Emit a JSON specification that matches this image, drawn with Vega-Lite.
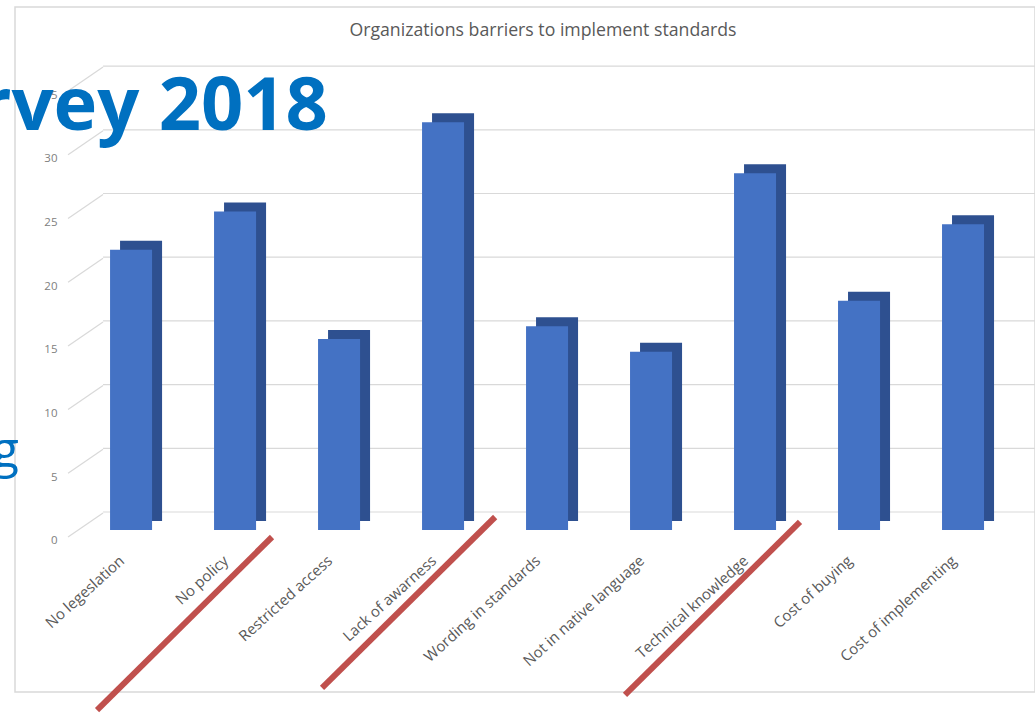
{
  "$schema": "https://vega.github.io/schema/vega-lite/v6.json",
  "width": 1020,
  "height": 685,
  "autosize": {"type": "none"},
  "padding": {"left": 15, "top": 7, "right": 0, "bottom": 25},
  "background": "white",
  "config": {
    "view": {"stroke": "#d9d9d9", "strokeWidth": 1.5},
    "font": "Open Sans"
  },
  "title": {
    "text": "Organizations barriers to implement standards",
    "anchor": "middle",
    "frame": "group",
    "offset": -33,
    "dx": 18,
    "fontSize": 17.7,
    "font": "Open Sans",
    "fontWeight": "normal",
    "color": "#595959"
  },
  "datasets": {
    "bars": [
      {"barrier": "No legeslation", "count": 22},
      {"barrier": "No policy", "count": 25},
      {"barrier": "Restricted access", "count": 15},
      {"barrier": "Lack of awarness", "count": 32},
      {"barrier": "Wording in standards", "count": 16},
      {"barrier": "Not in native language", "count": 14},
      {"barrier": "Technical knowledge", "count": 28},
      {"barrier": "Cost of buying", "count": 18},
      {"barrier": "Cost of implementing", "count": 24}
    ],
    "grid": [
      {"v": 0}, {"v": 5}, {"v": 10}, {"v": 15}, {"v": 20}, {"v": 25}, {"v": 30}, {"v": 35}
    ]
  },
  "encoding": {
    "x": {
      "field": "barrier",
      "type": "nominal",
      "sort": null,
      "scale": {
        "domain": ["No legeslation", "No policy", "Restricted access", "Lack of awarness", "Wording in standards", "Not in native language", "Technical knowledge", "Cost of buying", "Cost of implementing"],
        "paddingInner": 0.596,
        "paddingOuter": 0.702,
        "align": 0.651
      },
      "axis": {
        "orient": "bottom",
        "offset": -162,
        "title": null,
        "domain": false,
        "ticks": false,
        "grid": false,
        "labelAngle": -42,
        "labelAlign": "right",
        "labelBaseline": "middle",
        "labelPadding": 28,
        "labelOffset": -9,
        "labelFontSize": 15,
        "labelFont": "Open Sans",
        "labelColor": "#595959"
      }
    },
    "y": {
      "field": "count",
      "type": "quantitative",
      "scale": {"domain": [-12.716, 41.05], "nice": false, "zero": false},
      "axis": {
        "orient": "left",
        "offset": -50,
        "title": null,
        "domain": false,
        "ticks": false,
        "grid": false,
        "values": [0, 5, 10, 15, 20, 25, 30, 35],
        "labelPadding": 8,
        "labelOffset": 11,
        "labelFontSize": 11.5,
        "labelFont": "Open Sans",
        "labelColor": "#808080"
      }
    }
  },
  "layer": [
    {
      "data": {"name": "grid"},
      "mark": {"type": "rule", "color": "#d9d9d9", "strokeWidth": 1.2, "yOffset": -18},
      "encoding": {
        "x": {"datum": "No legeslation", "bandPosition": -0.167},
        "x2": {"datum": "Cost of implementing", "bandPosition": 3},
        "y": {"field": "v", "type": "quantitative"}
      }
    },
    {
      "data": {"name": "grid"},
      "mark": {"type": "rule", "color": "#d9d9d9", "strokeWidth": 1.2, "yOffset": 7, "y2Offset": -17},
      "encoding": {
        "x": {"datum": "No legeslation", "bandPosition": -1.0},
        "x2": {"datum": "No legeslation", "bandPosition": -0.167},
        "y": {"field": "v", "type": "quantitative"},
        "y2": {"field": "v"}
      }
    },
    {
      "data": {"name": "bars"},
      "mark": {"type": "bar", "color": "#2E5090", "xOffset": 10, "yOffset": -9, "y2Offset": -9},
      "encoding": {}
    },
    {
      "data": {"name": "bars"},
      "mark": {"type": "bar", "color": "#4472C4"},
      "encoding": {}
    },
    {
      "data": {"name": "bars"},
      "transform": [{"filter": "datum.barrier === 'No legeslation'"}],
      "mark": {"type": "rule", "color": "#C0504D", "strokeWidth": 6},
      "encoding": {
        "x": {"datum": "No legeslation", "bandPosition": -0.31},
        "x2": {"datum": "No policy", "bandPosition": 1.38},
        "y": {"datum": -14.13, "type": "quantitative"},
        "y2": {"datum": -0.55}
      }
    },
    {
      "data": {"name": "bars"},
      "transform": [{"filter": "datum.barrier === 'No legeslation'"}],
      "mark": {"type": "rule", "color": "#C0504D", "strokeWidth": 6},
      "encoding": {
        "x": {"datum": "Restricted access", "bandPosition": 0.095},
        "x2": {"datum": "Lack of awarness", "bandPosition": 1.74},
        "y": {"datum": -12.4, "type": "quantitative"},
        "y2": {"datum": 1.02}
      }
    },
    {
      "data": {"name": "bars"},
      "transform": [{"filter": "datum.barrier === 'No legeslation'"}],
      "mark": {"type": "rule", "color": "#C0504D", "strokeWidth": 6},
      "encoding": {
        "x": {"datum": "Not in native language", "bandPosition": -0.12},
        "x2": {"datum": "Technical knowledge", "bandPosition": 1.57},
        "y": {"datum": -12.95, "type": "quantitative"},
        "y2": {"datum": 0.63}
      }
    },
    {
      "data": {"name": "bars"},
      "transform": [{"filter": "datum.barrier === 'No policy'"}],
      "mark": {"type": "text", "align": "right", "baseline": "alphabetic", "font": "Open Sans", "fontWeight": "bold", "fontSize": 74, "color": "#0070C0"},
      "encoding": {
        "x": {"datum": "No policy", "bandPosition": 2.71},
        "y": {"datum": 31.4, "type": "quantitative"},
        "text": {"value": "rvey 2018"}
      }
    },
    {
      "data": {"name": "bars"},
      "transform": [{"filter": "datum.barrier === 'No legeslation'"}],
      "mark": {"type": "text", "align": "right", "baseline": "alphabetic", "font": "Open Sans", "fontWeight": "normal", "fontSize": 50, "color": "#0070C0"},
      "encoding": {
        "x": {"datum": "No legeslation", "bandPosition": -2.17},
        "y": {"datum": 4.94, "type": "quantitative"},
        "text": {"value": "g"}
      }
    }
  ]
}
